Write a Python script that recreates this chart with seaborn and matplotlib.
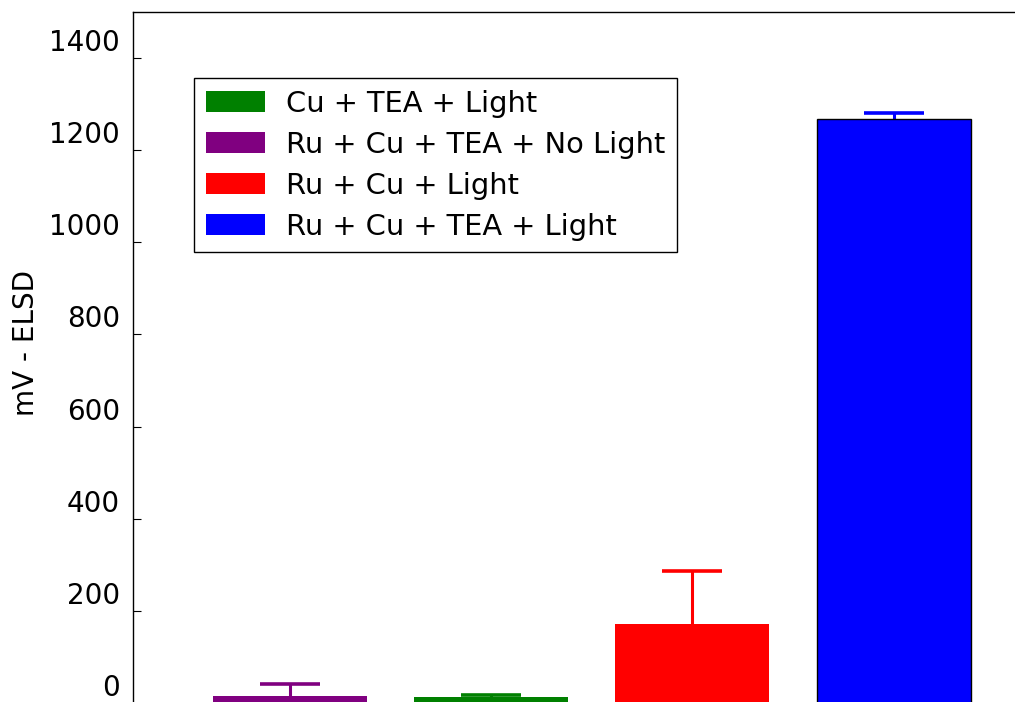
import matplotlib
matplotlib.use("Agg")
import matplotlib.pyplot as plt
import matplotlib.transforms as mtransforms
from matplotlib.patches import Patch
import pandas as pd
import seaborn as sns

# Bars, left to right
conditions = ["Ru + Cu + TEA + No Light", "Cu + TEA + Light",
              "Ru + Cu + Light", "Ru + Cu + TEA + Light"]
signal_mv = [15, 12, 172, 1268]
signal_err = [26, 5, 114, 13]
bar_colors = ["purple", "green", "red", "blue"]

# Legend entries, top to bottom
legend_order = ["Cu + TEA + Light", "Ru + Cu + TEA + No Light",
                "Ru + Cu + Light", "Ru + Cu + TEA + Light"]
y_ticks = [0, 200, 400, 600, 800, 1000, 1200, 1400]
y_label = "mV - ELSD"

sns.set_theme(style="white")
plt.rcParams["font.family"] = ["DejaVu Sans"]
plt.rcParams["text.color"] = "black"
plt.rcParams["axes.labelcolor"] = "black"
plt.rcParams["ytick.color"] = "black"

W, H, DPI = 1015, 702, 100
fig = plt.figure(figsize=(W / DPI, H / DPI), dpi=DPI)

# Axes extends a little past the right and bottom canvas edges
left_px, right_px, top_px, bottom_px = 133, 1050.6, 12, 703
ax = fig.add_axes([left_px / W, 1 - bottom_px / H,
                   (right_px - left_px) / W, (bottom_px - top_px) / H])

palette = dict(zip(conditions, bar_colors))
df = pd.DataFrame({"condition": conditions, "signal": signal_mv})

sns.barplot(data=df, x="condition", y="signal", hue="condition",
            order=conditions, hue_order=conditions, palette=palette,
            width=0.765, errorbar=None, legend=False, saturation=1,
            ax=ax)

for patch, cond in zip(ax.patches, conditions):
    patch.set_zorder(2)
    if cond == "Ru + Cu + TEA + Light":
        patch.set_edgecolor("black")
        patch.set_linewidth(1.0)
    else:
        patch.set_edgecolor(palette[cond])
        patch.set_linewidth(0)

# Error bars sit behind the bars so only the upper whisker shows
for i, (val, err, cond) in enumerate(zip(signal_mv, signal_err, conditions)):
    ax.errorbar(i, val, yerr=err, fmt="none", ecolor=palette[cond],
                elinewidth=2.2, capsize=21.6, capthick=2.6, zorder=1)

ax.set_xlim(-0.778, 3.78)
ax.set_ylim(0, 1500)
ax.set_yticks(y_ticks)
ax.set_yticklabels([str(t) for t in y_ticks])
ax.set_xlabel("")
ax.set_xticks([])

for side in ["left", "top", "right", "bottom"]:
    ax.spines[side].set_visible(True)
    ax.spines[side].set_color("black")
    ax.spines[side].set_linewidth(1.0)

ax.tick_params(axis="y", direction="in", length=5.8, width=0.8,
               pad=9.4, labelsize=20, left=True, right=False)

# Tick labels sit slightly above their tick marks
shift = mtransforms.ScaledTranslation(0, 18 / DPI, fig.dpi_scale_trans)
for lbl in ax.get_yticklabels():
    lbl.set_transform(lbl.get_transform() + shift)

ax.set_ylabel(y_label, fontsize=20, va="center", ha="center")
ax.yaxis.set_label_coords((26 - left_px) / (right_px - left_px),
                          (bottom_px - 343) / (bottom_px - top_px))

handles = [Patch(facecolor=palette[c], edgecolor="none") for c in legend_order]
leg = ax.legend(handles, legend_order, loc="upper left",
                bbox_to_anchor=(194 / W, 1 - 78 / H),
                bbox_transform=fig.transFigure, borderaxespad=0,
                fontsize=20.8, frameon=True, fancybox=False, framealpha=1,
                edgecolor="black", handlelength=2.07, handleheight=0.77,
                handletextpad=0.72, labelspacing=0.45, borderpad=0.4)
leg.get_frame().set_linewidth(1.0)

fig.savefig("out.png", dpi=DPI)
